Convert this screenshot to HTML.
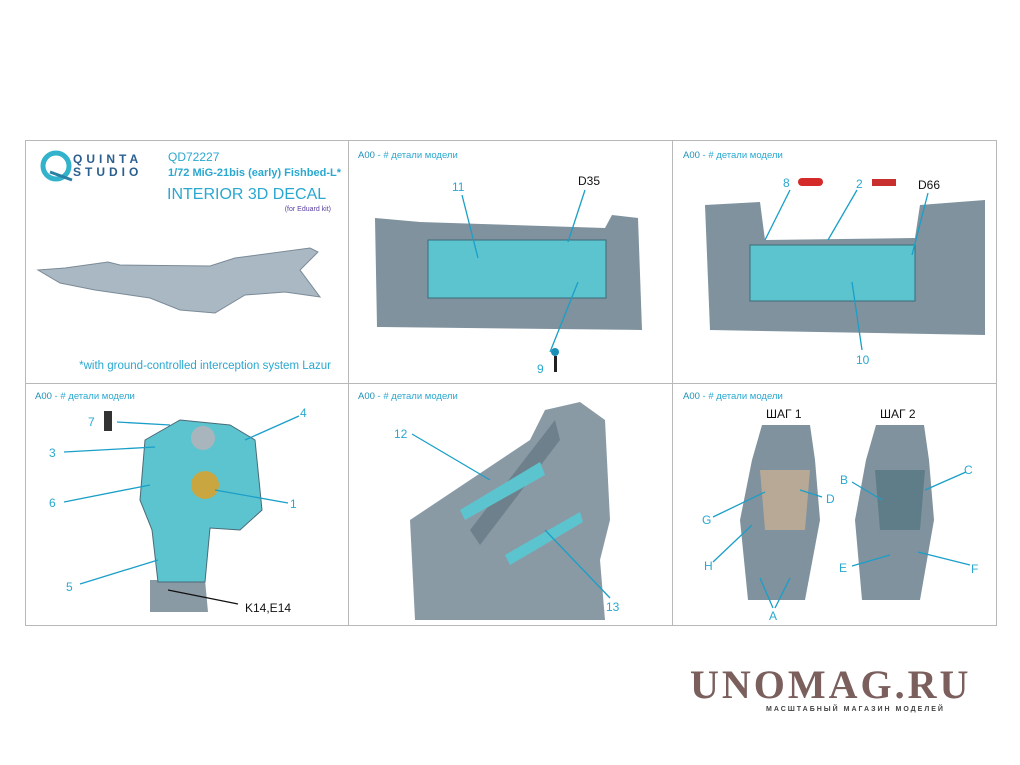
<!DOCTYPE html>
<html><head><meta charset="utf-8"><style>
body{margin:0;background:#fff;}
svg{display:block;font-family:"Liberation Sans","Noto Sans CJK SC",sans-serif;}
</style></head><body>
<svg width="1020" height="765" viewBox="0 0 1020 765">
<g stroke="#b8b8b8" stroke-width="1" fill="none">
<rect x="25.5" y="140.5" width="971" height="485"/>
<line x1="348.5" y1="140" x2="348.5" y2="625"/>
<line x1="672.5" y1="140" x2="672.5" y2="625"/>
<line x1="25" y1="383.5" x2="997" y2="383.5"/>
</g>
<!-- panel 1 -->
<g>
<circle cx="56" cy="166" r="13" fill="none" stroke="#33b2cc" stroke-width="5"/>
<path d="M50 172 L72 180" stroke="#2a7fa5" stroke-width="3"/>
<text x="73" y="163" font-size="12" font-weight="bold" fill="#2a5f8f" letter-spacing="4">QUINTA</text>
<text x="73" y="176" font-size="12" font-weight="bold" fill="#2a5f8f" letter-spacing="4">STUDIO</text>
<text x="168" y="161" font-size="12" fill="#29a8d0">QD72227</text>
<text x="168" y="176" font-size="11" font-weight="bold" fill="#29a8d0">1/72 MiG-21bis (early) Fishbed-L*</text>
<text x="167" y="199" font-size="16" fill="#29a8d0">INTERIOR 3D DECAL</text>
<text x="331" y="211" font-size="7" fill="#5a3fa0" text-anchor="end">(for Eduard kit)</text>
<path d="M38 270 L65 268 L108 262 L120 265 L210 266 L235 258 L310 248 L318 252 L300 270 L320 297 L285 292 L245 295 L215 313 L180 310 L150 298 L95 290 L60 283 Z" fill="#aab8c4" stroke="#7a8a96" stroke-width="1"/>
<text x="331" y="369" font-size="11.5" fill="#29a8d0" text-anchor="end">*with ground-controlled interception system Lazur</text>
</g>
<!-- headers -->
<g font-size="9.5" fill="#1e90b8">
<text x="358" y="158">A00 <tspan fill="#29a8d0">- # детали модели</tspan></text>
<text x="683" y="158">A00 <tspan fill="#29a8d0">- # детали модели</tspan></text>
<text x="35" y="399">A00 <tspan fill="#29a8d0">- # детали модели</tspan></text>
<text x="358" y="399">A00 <tspan fill="#29a8d0">- # детали модели</tspan></text>
<text x="683" y="399">A00 <tspan fill="#29a8d0">- # детали модели</tspan></text>
</g>
<!-- panel 2 -->
<path d="M375 218 L420 222 L605 228 L612 215 L638 218 L642 330 L377 327 Z" fill="#7f929e"/>
<rect x="428" y="240" width="178" height="58" fill="#5cc4cf" stroke="#3d6a78"/>
<g stroke="#1a9fc8" stroke-width="1.3"><line x1="462" y1="195" x2="478" y2="258"/><line x1="585" y1="190" x2="568" y2="242"/><line x1="550" y1="352" x2="578" y2="282"/></g>
<circle cx="555" cy="352" r="4" fill="#1a8fb8"/><rect x="554" y="356" width="3" height="16" fill="#222"/>
<g font-size="12" fill="#29a8d0"><text x="452" y="191">11</text><text x="537" y="373">9</text></g>
<text x="578" y="185" font-size="12" fill="#111">D35</text>
<!-- panel 3 -->
<path d="M705 205 L760 202 L765 240 L915 238 L920 205 L985 200 L985 335 L710 330 Z" fill="#7f929e"/>
<rect x="750" y="245" width="165" height="56" fill="#5cc4cf" stroke="#3d6a78"/>
<g stroke="#1a9fc8" stroke-width="1.3"><line x1="790" y1="190" x2="765" y2="240"/><line x1="857" y1="190" x2="828" y2="240"/><line x1="928" y1="193" x2="912" y2="255"/><line x1="862" y1="350" x2="852" y2="282"/></g>
<rect x="798" y="178" width="25" height="8" rx="4" fill="#d42a2a"/><rect x="872" y="179" width="24" height="7" fill="#c83030"/>
<g font-size="12" fill="#29a8d0"><text x="783" y="187">8</text><text x="856" y="188">2</text><text x="856" y="364">10</text></g>
<text x="918" y="189" font-size="12" fill="#111">D66</text>
<!-- panel 4 -->
<path d="M150 580 L205 580 L208 612 L150 612 Z" fill="#8a9aa5"/>
<path d="M145 440 L180 420 L230 425 L255 440 L262 510 L240 530 L210 528 L205 582 L158 582 L152 530 L140 500 Z" fill="#5cc4cf" stroke="#4a6a76"/>
<circle cx="203" cy="438" r="12" fill="#a9b5bd"/>
<circle cx="205" cy="485" r="14" fill="#c9a640"/>
<rect x="104" y="411" width="8" height="20" fill="#333"/>
<g stroke="#1a9fc8" stroke-width="1.3"><line x1="117" y1="422" x2="170" y2="425"/><line x1="299" y1="416" x2="245" y2="440"/><line x1="64" y1="452" x2="155" y2="447"/><line x1="64" y1="502" x2="150" y2="485"/><line x1="288" y1="503" x2="215" y2="490"/><line x1="80" y1="584" x2="158" y2="560"/></g>
<line x1="238" y1="604" x2="168" y2="590" stroke="#111" stroke-width="1.3"/>
<g font-size="12" fill="#29a8d0"><text x="88" y="426">7</text><text x="300" y="417">4</text><text x="49" y="457">3</text><text x="49" y="507">6</text><text x="290" y="508">1</text><text x="66" y="591">5</text></g>
<text x="245" y="612" font-size="12" fill="#111">K14,E14</text>
<!-- panel 5 -->
<path d="M410 520 L530 440 L545 410 L580 402 L605 420 L610 520 L600 560 L605 620 L415 620 Z" fill="#8a9aa5"/>
<path d="M470 530 L555 420 L560 440 L480 545 Z" fill="#6e808c"/>
<path d="M460 510 L540 462 L545 475 L465 520 Z" fill="#5cc4cf"/>
<path d="M505 555 L580 512 L583 522 L510 565 Z" fill="#5cc4cf"/>
<g stroke="#1a9fc8" stroke-width="1.3"><line x1="412" y1="434" x2="490" y2="480"/><line x1="610" y1="598" x2="545" y2="530"/></g>
<g font-size="12" fill="#29a8d0"><text x="394" y="438">12</text><text x="606" y="611">13</text></g>
<!-- panel 6 -->
<text x="766" y="418" font-size="12" fill="#111">ШАГ 1</text>
<text x="880" y="418" font-size="12" fill="#111">ШАГ 2</text>
<g fill="#7f929e">
<path d="M762 425 L810 425 L815 460 L820 520 L805 600 L748 600 L740 520 L752 460 Z"/>
<path d="M876 425 L924 425 L929 460 L934 520 L920 600 L862 600 L855 520 L866 460 Z"/>
</g>
<path d="M760 470 L810 470 L805 530 L765 530 Z" fill="#b8a896"/>
<path d="M875 470 L925 470 L920 530 L880 530 Z" fill="#5f7d88"/>
<g stroke="#1a9fc8" stroke-width="1.3">
<line x1="713" y1="517" x2="765" y2="492"/><line x1="822" y1="497" x2="800" y2="490"/><line x1="713" y1="562" x2="752" y2="525"/>
<line x1="852" y1="482" x2="882" y2="500"/><line x1="966" y1="472" x2="925" y2="490"/><line x1="852" y1="566" x2="890" y2="555"/><line x1="970" y1="565" x2="918" y2="552"/>
<line x1="773" y1="608" x2="760" y2="578"/><line x1="775" y1="608" x2="790" y2="578"/>
</g>
<g font-size="12" fill="#29a8d0"><text x="702" y="524">G</text><text x="826" y="503">D</text><text x="704" y="570">H</text><text x="840" y="484">B</text><text x="964" y="474">C</text><text x="839" y="572">E</text><text x="971" y="573">F</text><text x="769" y="620">A</text></g>
<!-- watermark -->
<text x="690" y="698" font-size="40" font-weight="bold" font-family="Liberation Serif,serif" fill="#7a5f5c" letter-spacing="3">UNOMAG.RU</text>
<text x="766" y="711" font-size="7" font-weight="bold" fill="#444" letter-spacing="2">МАСШТАБНЫЙ МАГАЗИН МОДЕЛЕЙ</text>
</svg>
</body></html>
